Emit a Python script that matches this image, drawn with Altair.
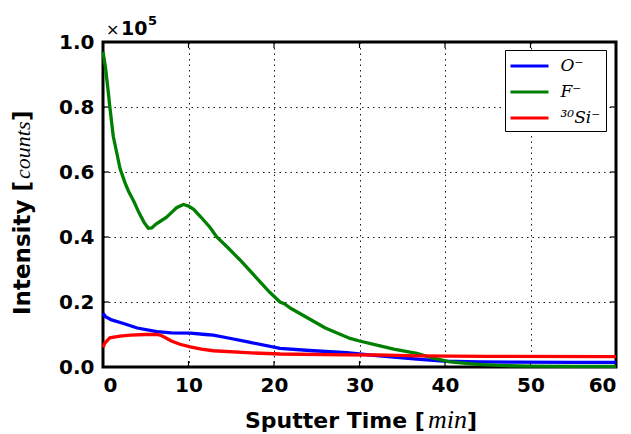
import altair as alt
import pandas as pd

series_names = ["O⁻", "F⁻", "³⁰Si⁻"]
series_colors = ["#0000ff", "#008000", "#ff0000"]

# Intensity in units of 10^5 counts, time in minutes
o_time = [0.0, 0.3, 1.0, 2.4, 4.0, 6.3, 8.0, 10.2, 12.0, 12.9, 14.5, 16.8, 20.7, 24.6, 28.5, 32.0, 36.7, 39.8, 44.0, 48.4, 55.0, 60.0]
o_int = [0.165, 0.155, 0.145, 0.134, 0.120, 0.109, 0.105, 0.104, 0.100, 0.098, 0.090, 0.078, 0.057, 0.050, 0.044, 0.035, 0.024, 0.018, 0.016, 0.015, 0.014, 0.014]

f_time = [0.0, 0.3, 0.6, 0.8, 1.2, 1.6, 2.0, 2.6, 3.0, 3.6, 4.2, 4.8, 5.3, 5.7, 6.2, 6.8, 7.4, 8.0, 8.6, 9.4, 10.0, 10.6, 11.5, 12.5, 13.3, 14.5, 16.0, 18.0, 19.5, 20.7, 21.2, 22.0, 24.0, 26.0, 28.9, 30.0, 32.4, 34.0, 36.7, 38.5, 40.6, 42.5, 44.4, 47.0, 50.0, 55.0, 60.0]
f_int = [0.97, 0.92, 0.85, 0.80, 0.71, 0.66, 0.61, 0.565, 0.54, 0.51, 0.475, 0.445, 0.427, 0.428, 0.44, 0.45, 0.46, 0.475, 0.49, 0.50, 0.495, 0.485, 0.46, 0.43, 0.40, 0.37, 0.33, 0.273, 0.23, 0.20, 0.195, 0.18, 0.15, 0.12, 0.088, 0.08, 0.065, 0.055, 0.042, 0.028, 0.016, 0.011, 0.007, 0.004, 0.003, 0.002, 0.002]

si_time = [0.0, 0.2, 0.8, 2.0, 3.2, 5.0, 6.3, 6.8, 7.1, 8.0, 9.0, 10.2, 11.5, 12.9, 16.8, 20.7, 28.5, 32.0, 36.7, 45.0, 60.0]
si_int = [0.06, 0.073, 0.09, 0.095, 0.098, 0.100, 0.100, 0.097, 0.093, 0.080, 0.070, 0.062, 0.055, 0.050, 0.044, 0.040, 0.037, 0.037, 0.034, 0.033, 0.032]

x_ticks = [0, 10, 20, 30, 40, 50, 60]
y_ticks = [0.0, 0.2, 0.4, 0.6, 0.8, 1.0]

rows = []
for name, ts, vs in zip(series_names, [o_time, f_time, si_time], [o_int, f_int, si_int]):
    for t, v in zip(ts, vs):
        rows.append({"series": name, "time": t, "intensity": v})
df = pd.DataFrame(rows)

W, H = 513, 325
xs = alt.Scale(domain=[0, 60], nice=False, zero=False)
ys = alt.Scale(domain=[0, 1.0], nice=False, zero=False)
color = alt.Color(
    "series:N",
    scale=alt.Scale(domain=series_names, range=series_colors),
    title=None,
    legend=alt.Legend(
        orient="none", legendX=402, legendY=8,
        strokeColor="black", fillColor="white", padding=5, cornerRadius=0,
        symbolType="M-2,0H2", symbolSize=361, symbolStrokeWidth=3,
        symbolOffset=8.5, labelOffset=20, rowPadding=7,
        labelFont="DejaVu Serif", labelFontStyle="italic",
        labelFontSize=17, labelColor="black",
    ),
)

base = alt.Chart(df)
x_enc = alt.X("time:Q", scale=xs, title=None,
              axis=alt.Axis(values=x_ticks, format="d", tickSize=0, domain=False,
                            labelPadding=8, grid=True))
y_enc = alt.Y("intensity:Q", scale=ys, title=None,
              axis=alt.Axis(values=y_ticks, format=".1f", tickSize=0, domain=False,
                            labelPadding=9, grid=True))

lines = []
for name in series_names:
    lines.append(
        base.transform_filter(alt.datum.series == name)
        .mark_line(strokeWidth=3.3)
        .encode(x=x_enc, y=y_enc, color=color, order="time:Q")
    )

# inward ticks on all four sides
tick_len_x = 0.7
tick_len_y = 0.0185
tick_rows = []
for t in x_ticks:
    tick_rows.append({"x": t, "x2": t, "y": 0.0, "y2": tick_len_y})
    tick_rows.append({"x": t, "x2": t, "y": 1.0, "y2": 1.0 - tick_len_y})
for v in y_ticks:
    tick_rows.append({"x": 0.0, "x2": tick_len_x, "y": v, "y2": v})
    tick_rows.append({"x": 60.0, "x2": 60.0 - tick_len_x, "y": v, "y2": v})
ticks = alt.Chart(pd.DataFrame(tick_rows)).mark_rule(color="black", strokeWidth=1.2).encode(
    x=alt.X("x:Q", scale=xs), x2="x2", y=alt.Y("y:Q", scale=ys), y2="y2"
)

def txt(s, x, y, **kw):
    return alt.Chart(pd.DataFrame({"t": [s]})).mark_text(**kw).encode(
        x=alt.value(x), y=alt.value(y), text="t:N"
    )

sans = "DejaVu Sans"
serif = "Liberation Serif"
texts = [
    txt("Sputter Time [", 142, 386, align="left", baseline="alphabetic", font=sans, fontWeight="bold", fontSize=22, color="black"),
    txt("min", 325, 386, align="left", baseline="alphabetic", font=serif, fontStyle="italic", fontSize=26, color="black"),
    txt("]", 364, 386, align="left", baseline="alphabetic", font=sans, fontWeight="bold", fontSize=22, color="black"),
    txt("Intensity [", -73, 273, align="left", baseline="alphabetic", angle=270, font=sans, fontWeight="bold", fontSize=23, color="black"),
    txt("counts", -73, 137, align="left", baseline="alphabetic", angle=270, font=serif, fontStyle="italic", fontSize=22, color="black"),
    txt("]", -73, 79, align="left", baseline="alphabetic", angle=270, font=sans, fontWeight="bold", fontSize=23, color="black"),
    txt("×", 3, -7, align="left", baseline="alphabetic", font=sans, fontSize=16, color="black"),
    txt("10", 18, -7, align="left", baseline="alphabetic", font=sans, fontWeight="bold", fontSize=19, color="black"),
    txt("5", 45, -17, align="left", baseline="alphabetic", font=sans, fontWeight="bold", fontSize=13, color="black"),
]

chart = alt.layer(ticks, *lines, *texts).properties(
    width=W, height=H,
    autosize=alt.AutoSizeParams(type="none"),
    padding={"left": 103, "top": 42, "right": 15, "bottom": 67},
    background="white",
).configure_view(
    stroke="black", strokeWidth=3
).configure_axis(
    labelFont=sans, labelFontWeight="bold", labelFontSize=20, labelColor="black",
    gridColor="black", gridDash=[1.5, 4], gridWidth=1, gridOpacity=0.9,
)

chart.save("out.html", embed_options={"renderer": "svg", "actions": False})
